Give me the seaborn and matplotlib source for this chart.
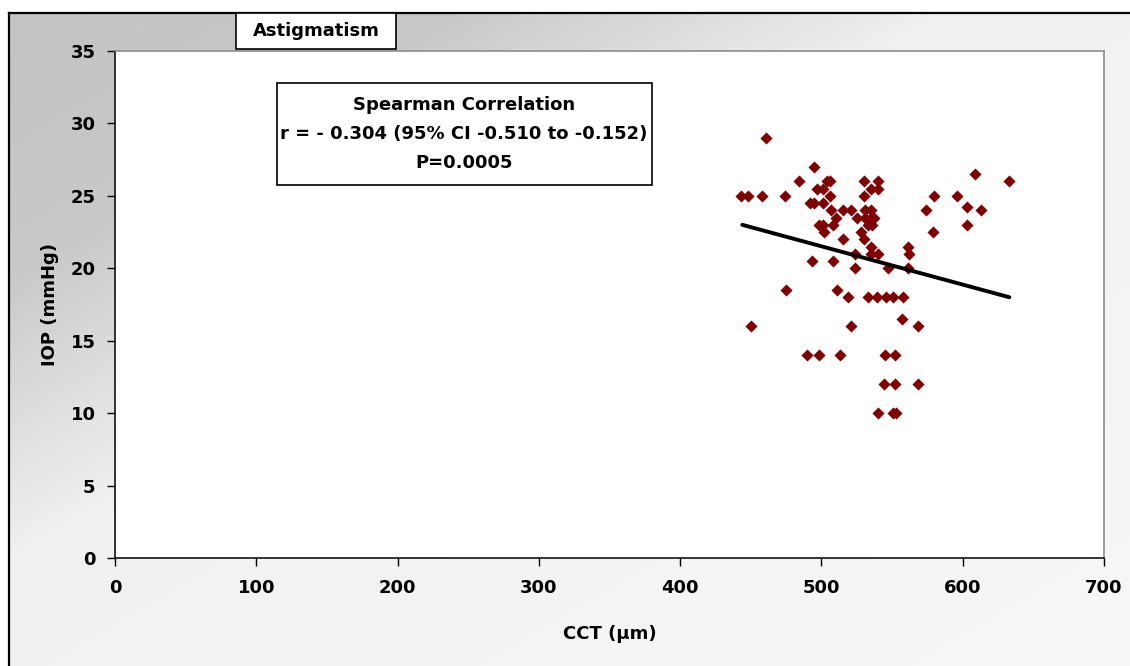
import numpy as np
import pandas as pd
import matplotlib
matplotlib.use('Agg')
import matplotlib.pyplot as plt
from matplotlib.colors import LinearSegmentedColormap
from matplotlib.patches import Rectangle
import seaborn as sns

# CCT (um) vs IOP (mmHg)
cct = [461, 495, 609,
       484, 504, 506, 530, 540, 633,
       497, 501, 535, 540,
       443, 448, 458, 474, 506, 530, 580, 596,
       492, 495, 501, 603,
       507, 515, 521, 531, 535, 574, 613,
       510, 525, 531, 535, 537,
       498, 501, 508, 533, 536, 603,
       502, 528, 579,
       515, 530,
       535, 561,
       524, 535, 540, 562,
       493, 508,
       524, 547, 561,
       475, 511,
       519, 533, 539, 546, 551, 558,
       557,
       450, 521, 568,
       490, 498, 513, 545, 552,
       544, 552, 568,
       540, 551, 553]
iop = [29, 27, 26.5,
       26, 26, 26, 26, 26, 26,
       25.5, 25.5, 25.5, 25.5,
       25, 25, 25, 25, 25, 25, 25, 25,
       24.5, 24.5, 24.5, 24.25,
       24, 24, 24, 24, 24, 24, 24,
       23.5, 23.5, 23.5, 23.5, 23.5,
       23, 23, 23, 23, 23, 23,
       22.5, 22.5, 22.5,
       22, 22,
       21.5, 21.5,
       21, 21, 21, 21,
       20.5, 20.5,
       20, 20, 20,
       18.5, 18.5,
       18, 18, 18, 18, 18, 18,
       16.5,
       16, 16, 16,
       14, 14, 14, 14, 14,
       12, 12, 12,
       10, 10, 10]

# trend line end points
fit_x = [444, 633]
fit_y = [23.0, 18.0]

x_ticks = [0, 100, 200, 300, 400, 500, 600, 700]
y_ticks = [0, 5, 10, 15, 20, 25, 30, 35]

stats_lines = ['Spearman Correlation',
               'r = - 0.304 (95% CI -0.510 to -0.152)',
               'P=0.0005']

df = pd.DataFrame({'CCT': cct, 'IOP': iop})

sns.set_style('white')
plt.rcParams['font.family'] = ['DejaVu Sans']
plt.rcParams['font.weight'] = 'bold'
plt.rcParams['text.color'] = 'black'
plt.rcParams['axes.labelcolor'] = 'black'
plt.rcParams['xtick.color'] = 'black'
plt.rcParams['ytick.color'] = 'black'
FS = 13

W, H = 1130, 666
fig = plt.figure(figsize=(W / 100, H / 100), dpi=100)
fig.patch.set_facecolor('white')

# diagonal gradient background with black frame (cut off at right/bottom)
bg = fig.add_axes([9 / W, 0, 1 - 9 / W, 1 - 13 / H])
u = np.linspace(0, 1, 400)
v = np.linspace(0, 1, 300)
grad = (np.add.outer(v, u)) / 2
cmap = LinearSegmentedColormap.from_list(
    'bg', [(0, '#c3c3c3'), (0.2, '#c9c9c9'), (0.42, '#f1f1f1'), (1, '#f7f7f7')])
bg.imshow(grad, aspect='auto', cmap=cmap, extent=[0, 1, 0, 1], origin='upper')
bg.set_xticks([]); bg.set_yticks([])
for s in ['right', 'bottom']:
    bg.spines[s].set_visible(False)
for s in ['left', 'top']:
    bg.spines[s].set_color('black')
    bg.spines[s].set_linewidth(1.6)
bg.set_zorder(0)

ax = fig.add_axes([115 / W, 1 - 558 / H, (1104 - 115) / W, (558 - 51) / H])
ax.set_facecolor('white')
sns.scatterplot(data=df, x='CCT', y='IOP', marker='D', s=38, color='#800000',
                linewidth=0, ax=ax, zorder=3)
sns.lineplot(x=fit_x, y=fit_y, color='black', linewidth=2.8, ax=ax, zorder=4)

ax.set_xlim(0, 700); ax.set_ylim(0, 35)
ax.set_xticks(x_ticks); ax.set_yticks(y_ticks)
ax.tick_params(axis='both', direction='out', labelsize=FS, width=1,
               color='black', labelcolor='black')
ax.tick_params(axis='x', length=6, pad=9)
ax.tick_params(axis='y', length=6, pad=8)
ax.xaxis.set_ticks_position('bottom'); ax.yaxis.set_ticks_position('left')
for lab in ax.get_xticklabels() + ax.get_yticklabels():
    lab.set_fontweight('bold')
for s in ['left', 'bottom']:
    ax.spines[s].set_color('#111111'); ax.spines[s].set_linewidth(1.2)
for s in ['top', 'right']:
    ax.spines[s].set_color('#8c8c8c'); ax.spines[s].set_linewidth(1.2)
ax.set_xlabel('CCT (µm)', fontsize=FS, fontweight='bold', labelpad=20,
              color='black')
ax.set_ylabel('IOP (mmHg)', fontsize=FS, fontweight='bold', labelpad=8,
              color='black')

# stats box
ax.add_patch(Rectangle((0.1638, 0.7357), 0.3792, 0.2012, transform=ax.transAxes,
                       facecolor='white', edgecolor='black', linewidth=1.2,
                       zorder=5))
for txt, yy in zip(stats_lines, [0.8935, 0.836, 0.779]):
    ax.text(0.353, yy, txt, transform=ax.transAxes, ha='center', va='center',
            fontsize=FS, fontweight='bold', color='black', zorder=6)

# title box
fig.add_artist(Rectangle((236 / W, 1 - 49 / H), 160 / W, 36 / H,
                         transform=fig.transFigure, facecolor='white',
                         edgecolor='black', linewidth=1.2, zorder=10))
fig.text(316 / W, 1 - 31 / H, 'Astigmatism', ha='center', va='center',
         fontsize=FS, fontweight='bold', color='black', zorder=11)

fig.savefig('out.png', dpi=100)
